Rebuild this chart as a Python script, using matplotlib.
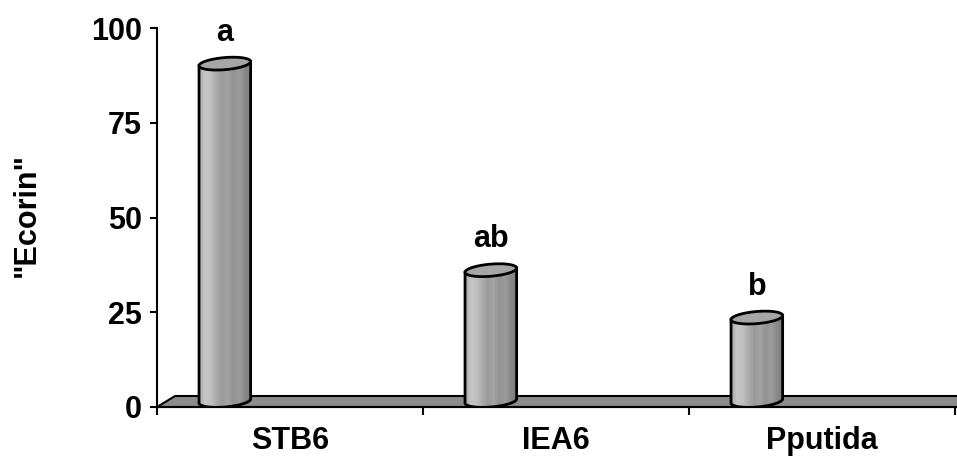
from matplotlib import pyplot as plt
from matplotlib.patches import Polygon
from matplotlib.colors import LinearSegmentedColormap
import numpy as np

# data
categories = ["STB6", "IEA6", "Pputida"]
values = [89, 34.5, 22]
letters = ["a", "ab", "b"]
yticks = [0, 25, 50, 75, 100]

plt.rcParams['font.family'] = ['Liberation Sans', 'DejaVu Sans']
plt.rcParams['font.weight'] = 'bold'

fig = plt.figure(figsize=(9.57, 4.58), dpi=100)
ax = fig.add_axes([157/957, 51/458, 798/957, 379/458])

ax.set_xlim(0, 3)
ax.set_ylim(0, 100)

# floor of the 3d box
dx, dy = 0.068, 2.9
floor = Polygon([(0, 0), (3.2, 0), (3.2 + dx, dy), (dx, dy)], closed=True,
                facecolor='#8c8c8c', edgecolor='black', lw=1.5, clip_on=False, zorder=1)
ax.add_patch(floor)

# cylinder styling
half_w = 0.097     # half width of cylinder in x units
eb = 1.6           # half height of ellipse in y units
skew = 0.55        # tilt of ellipses
base = 1.6         # bottom ellipse centre (mid of floor)
offset = 0.255     # bars sit left of category centre

cyl_cmap = LinearSegmentedColormap.from_list(
    'cyl', ['#a8a8a8', '#c6c6c6', '#c0c0c0', '#acacac', '#9a9a9a',
            '#a4a4a4', '#929292', '#9c9c9c', '#888888', '#7e7e7e'])
grad = np.linspace(0, 1, 200).reshape(1, -1)

t_bot = np.linspace(np.pi, 2*np.pi, 60)
t_all = np.linspace(0, 2*np.pi, 120)

for i, (v, lab) in enumerate(zip(values, letters)):
    xc = i + offset
    top = base + v
    xl, xr = xc - half_w, xc + half_w

    # body outline: left side, bottom front arc, right side
    bx = xc + half_w*np.cos(t_bot)
    by = base + eb*np.sin(t_bot) + skew*np.cos(t_bot)
    px = np.concatenate([[xl], bx, [xr]])
    py = np.concatenate([[top - skew], by, [top + skew]])
    body = Polygon(np.column_stack([px, py]), closed=True,
                   facecolor='none', edgecolor='black', lw=2, zorder=3)
    ax.add_patch(body)

    im = ax.imshow(grad, cmap=cyl_cmap, aspect='auto', zorder=2,
                   extent=[xl, xr, base - eb - skew - 1, top + skew + 1])
    im.set_clip_path(body)

    # top ellipse
    ex = xc + half_w*np.cos(t_all)
    ey = top + eb*np.sin(t_all) + skew*np.cos(t_all)
    ax.add_patch(Polygon(np.column_stack([ex, ey]), closed=True,
                         facecolor='#a6a6a6', edgecolor='black', lw=2, zorder=4))

    ax.text(xc, top + 6.0, lab, ha='center', va='baseline',
            fontsize=22, fontweight='bold')

ax.set_xlim(0, 3)
ax.set_ylim(0, 100)

# axes
for s in ['top', 'right']:
    ax.spines[s].set_visible(False)
ax.spines['left'].set_linewidth(1.5)
ax.spines['bottom'].set_linewidth(1.5)
ax.spines['bottom'].set_zorder(1.5)

ax.set_yticks(yticks)
ax.set_yticklabels([str(y) for y in yticks])
ax.tick_params(axis='y', length=5, width=1.5, pad=6, labelsize=22)

ax.set_xticks([0, 1, 2, 3])
ax.set_xticklabels([])
ax.tick_params(axis='x', which='major', length=6, width=1.5)
ax.set_xticks([0.5, 1.5, 2.5], minor=True)
ax.set_xticklabels(categories, minor=True)
ax.tick_params(axis='x', which='minor', length=0, pad=14, labelsize=22)

for lbl in ax.get_xticklabels(minor=True) + ax.get_yticklabels():
    lbl.set_fontweight('bold')

fig.text(27/957, 1 - 215/458, '"Ecorin"', rotation=90, ha='center', va='center',
         fontsize=22, fontweight='bold')

plt.savefig('out.png', dpi=100)
